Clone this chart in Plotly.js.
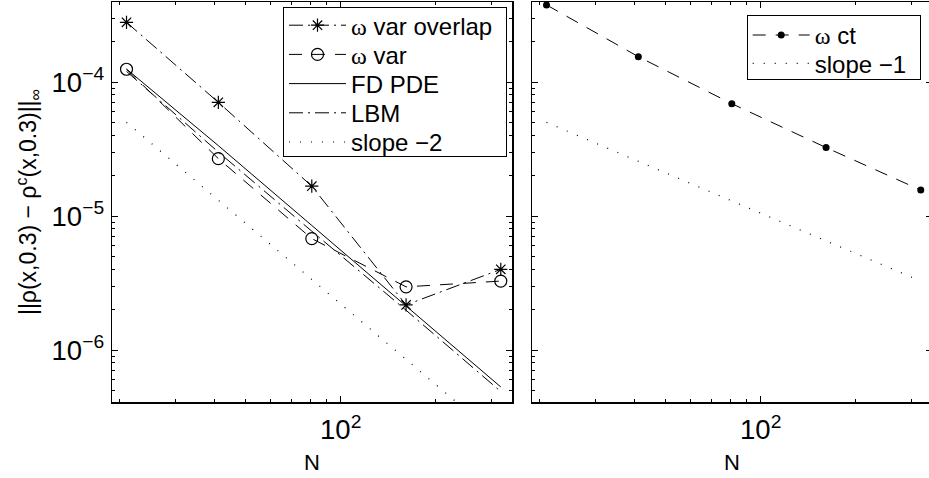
<!DOCTYPE html>
<html>
<head>
<meta charset="utf-8">
<script src="https://cdn.plot.ly/plotly-3.0.1.min.js"></script>
<style>
html,body{margin:0;padding:0;overflow:hidden;background:#fff;}
#chart{width:935px;height:478px;}
</style>
</head>
<body>
<div id="chart"></div>
<script>
// ---- data ----
const N = [21, 41, 81, 161, 321];
const varOverlap = [2.79e-4, 7.05e-5, 1.67e-5, 2.17e-6, 4.0e-6];
const varErr     = [1.245e-4, 2.68e-5, 6.78e-6, 2.96e-6, 3.27e-6];
const fdPde      = [1.25e-4, 3.35e-5, 8.5e-6, 2.12e-6, 5.3e-7];
const lbm        = [1.2e-4, 3.0e-5, 7.7e-6, 1.98e-6, 4.9e-7];
const slope2N    = [21, 321];
const slope2     = [5e-5, 2.14e-7];
const ctErr      = [3.76e-4, 1.545e-4, 6.89e-5, 3.24e-5, 1.56e-5];
const slope1N    = [21, 321];
const slope1     = [5e-5, 3.27e-6];

const OMEGA = '<span style="font-family:\'Liberation Serif\'">ω</span>';
const leftNames  = [OMEGA + ' var overlap', OMEGA + ' var', 'FD PDE', 'LBM', 'slope −2'];
const rightNames = [OMEGA + ' ct', 'slope −1'];

const FONT = 'Liberation Sans, Arial, sans-serif';
const DASH = '13px,10px';
const DASHDOT = '14px,5px,2px,5px';
const DOT = '1px,10px';

const traces = [
  {x: N, y: varOverlap, name: leftNames[0], xaxis: 'x', yaxis: 'y',
   mode: 'lines+markers', line: {color: '#000', width: 1, dash: DASHDOT},
   marker: {symbol: 'asterisk-open', size: 11, color: '#000', line: {color: '#000', width: 1.2}}},
  {x: N, y: varErr, name: leftNames[1], xaxis: 'x', yaxis: 'y',
   mode: 'lines+markers', line: {color: '#000', width: 1, dash: DASH},
   marker: {symbol: 'circle-open', size: 12, color: '#000', line: {color: '#000', width: 1.2}}},
  {x: N, y: fdPde, name: leftNames[2], xaxis: 'x', yaxis: 'y',
   mode: 'lines', line: {color: '#000', width: 1}},
  {x: N, y: lbm, name: leftNames[3], xaxis: 'x', yaxis: 'y',
   mode: 'lines', line: {color: '#000', width: 1, dash: DASHDOT}},
  {x: slope2N, y: slope2, name: leftNames[4], xaxis: 'x', yaxis: 'y',
   mode: 'lines', line: {color: '#000', width: 1.2, dash: DOT}},
  {x: N, y: ctErr, name: rightNames[0], legend: 'legend2', xaxis: 'x2', yaxis: 'y2',
   mode: 'lines+markers', line: {color: '#000', width: 1, dash: DASH},
   marker: {symbol: 'circle', size: 7, color: '#000'}},
  {x: slope1N, y: slope1, name: rightNames[1], legend: 'legend2', xaxis: 'x2', yaxis: 'y2',
   mode: 'lines', line: {color: '#000', width: 1.2, dash: DOT}}
];

const xr = [1.2763, 2.542];
const yr = [-6.388, -3.403];

function xaxisDef(domain, anchor) {
  return {
    type: 'log', range: xr, domain: domain, anchor: anchor,
    dtick: 1, exponentformat: 'power', showgrid: false, zeroline: false,
    showline: true, linecolor: '#000', linewidth: 1.5, mirror: 'ticks',
    ticks: 'inside', ticklen: 6, tickcolor: '#000', tickwidth: 1, ticklabelstandoff: 4,
    minor: {dtick: 'D1', ticks: 'inside', ticklen: 3, tickcolor: '#000', tickwidth: 1, showgrid: false},
    tickfont: {family: FONT, size: 22, color: '#000'},
    title: {text: 'N', font: {family: FONT, size: 22, color: '#000'}, standoff: 10}
  };
}
function yaxisDef(anchor, labels) {
  return {
    type: 'log', range: yr, domain: [0, 1], anchor: anchor,
    dtick: 1, exponentformat: 'power', showgrid: false, zeroline: false,
    showline: true, linecolor: '#000', linewidth: 1.5, mirror: 'ticks',
    ticks: 'inside', ticklen: 6, tickcolor: '#000', tickwidth: 1, ticklabelstandoff: 2,
    minor: {dtick: 'D1', ticks: 'inside', ticklen: 3, tickcolor: '#000', tickwidth: 1, showgrid: false},
    showticklabels: labels,
    tickfont: {family: FONT, size: 22, color: '#000'}
  };
}

const yl = yaxisDef('x', true);
yl.title = {text: '||ρ(x,0.3) − ρ<sup>c</sup>(x,0.3)||<sub>∞</sub>', font: {family: FONT, size: 23, color: '#000'}, standoff: 8};

const LEG_FONT = {family: FONT, size: 24, color: '#000'};
const layout = {
  width: 935, height: 478,
  margin: {l: 112, r: 3, t: 2, b: 76, pad: 0},
  paper_bgcolor: '#fff', plot_bgcolor: '#fff',
  font: {family: FONT, size: 22, color: '#000'},
  xaxis: xaxisDef([0, 400 / 820], 'y'),
  yaxis: yl,
  xaxis2: xaxisDef([420 / 820, 1], 'y2'),
  yaxis2: yaxisDef('x2', false),
  legend: {x: (283 - 112) / 820, y: 1 - (6.7 - 2) / 400, xanchor: 'left', yanchor: 'top',
           bgcolor: '#fff', bordercolor: '#000', borderwidth: 1, traceorder: 'normal',
           itemwidth: 57, font: LEG_FONT},
  legend2: {x: (746.7 - 112) / 820, y: 1 - (15 - 2) / 400, xanchor: 'left', yanchor: 'top',
           bgcolor: '#fff', bordercolor: '#000', borderwidth: 1, traceorder: 'normal',
           itemwidth: 57, font: LEG_FONT},
  showlegend: true
};

// compact the legend rows / box to the tight MATLAB-style spacing of the reference
function tightenLegend(cls, firstCenter, rowH, totalW, totalH) {
  const g = document.querySelector('g.' + cls);
  if (!g) return;
  g.querySelectorAll('g.groups').forEach(gr => gr.setAttribute('transform', 'translate(0,0)'));
  const items = g.querySelectorAll('g.traces');
  items.forEach((it, i) => {
    const t = it.getAttribute('transform') || '';
    const m = t.match(/translate\(\s*([-\d.]+)/);
    const tx = m ? parseFloat(m[1]) : 1;
    it.setAttribute('transform', 'translate(' + tx + ',' + (firstCenter + i * rowH) + ')');
  });
  const bg = g.querySelector('rect.bg');
  if (bg) { bg.setAttribute('height', totalH); bg.setAttribute('width', totalW); }
}

Plotly.newPlot('chart', traces, layout, {displayModeBar: false, staticPlot: true}).then(() => {
  tightenLegend('legend', 18.5, 29.2, 223, 149);
  tightenLegend('legend2', 20, 28.3, 173, 64);
});
</script>
</body>
</html>
